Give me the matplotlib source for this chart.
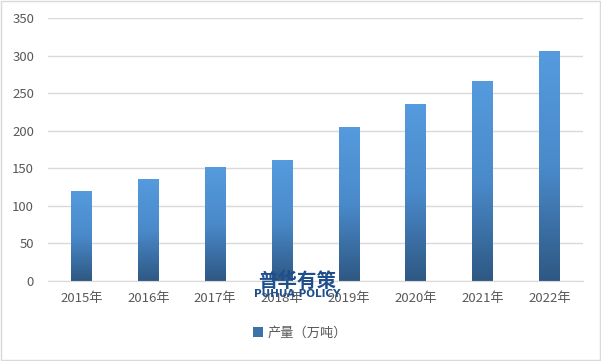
import numpy as np
import matplotlib.pyplot as plt
from matplotlib.colors import LinearSegmentedColormap
from matplotlib.patches import Rectangle

plt.rcParams['font.family'] = ['Noto Sans CJK SC', 'DejaVu Sans']

years = ['2015年', '2016年', '2017年', '2018年', '2019年', '2020年', '2021年', '2022年']
output = [120, 136, 152, 161, 205, 236, 266, 306]
legend_label = '产量（万吨）'

fig = plt.figure(figsize=(6.01, 3.61), dpi=100)
ax = fig.add_axes([48 / 601, 1 - 281 / 361, 535 / 601, 263 / 361])

# gradient for the bars: light blue at top, dark blue at bottom
cmap = LinearSegmentedColormap.from_list('bar', ['#2E5883', '#4A8ACB', '#559BDD'])
grad = np.linspace(0, 1, 256).reshape(-1, 1)

x = np.arange(len(years))
width = 0.31
bars = ax.bar(x, output, width=width, color='none', edgecolor='none', zorder=2)
for b in bars:
    x0, w, h = b.get_x(), b.get_width(), b.get_height()
    im = ax.imshow(grad, cmap=cmap, aspect='auto', origin='lower',
                   extent=[x0, x0 + w, 0, h], zorder=2)
    clip = Rectangle((x0, 0), w, h, transform=ax.transData)
    im.set_clip_path(clip)

ax.set_xlim(-0.5, len(years) - 0.5)
ax.set_ylim(0, 350)
ax.set_yticks(range(0, 351, 50))
ax.set_xticks(x)
ax.set_xticklabels(years)
ax.grid(axis='y', color='#D9D9D9', linewidth=1, zorder=0)
ax.set_axisbelow(True)
for s in ['top', 'right', 'left']:
    ax.spines[s].set_visible(False)
ax.spines['bottom'].set_color('#D9D9D9')
ax.tick_params(length=0, colors='#595959', labelsize=9.5)
ax.tick_params(axis='x', pad=8)
ax.tick_params(axis='y', pad=10)

# legend
handle = Rectangle((0, 0), 1, 1, facecolor='#3C72A8')
fig.legend([handle], [legend_label], loc='center', bbox_to_anchor=(0.5, 1 - 333 / 361),
           frameon=False, fontsize=9.5, handlelength=0.7, handleheight=0.7,
           handletextpad=0.4, labelcolor='#595959')

# watermark
fig.text(297 / 601, 1 - 281 / 361, '普华有策', ha='center', va='center',
         fontsize=14, fontweight='bold', color='#1F4E8C', zorder=5)
fig.text(297 / 601, 1 - 294 / 361, 'PUHUA POLICY', ha='center', va='center',
         fontsize=7.5, fontweight='bold', color='#1F4E8C', zorder=5, family='DejaVu Sans')

# outer border
fig.patches.append(Rectangle((0.002, 0.003), 0.996, 0.994, transform=fig.transFigure,
                             fill=False, edgecolor='#D9D9D9', linewidth=1))

fig.savefig('out.png', dpi=100)
